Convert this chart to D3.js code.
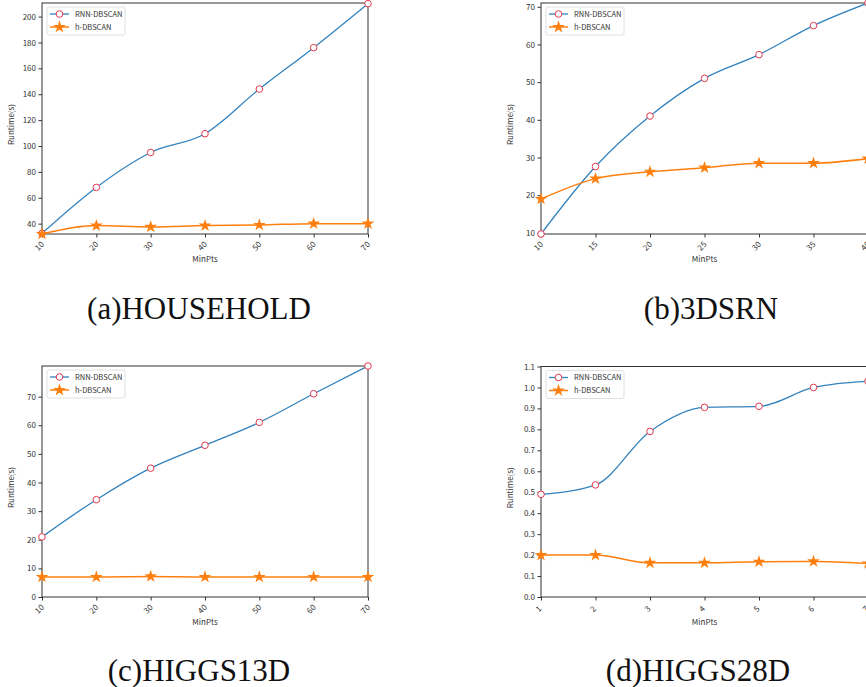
<!DOCTYPE html>
<html>
<head>
<meta charset="utf-8">
<script src="https://cdn.jsdelivr.net/npm/d3@7"></script>
<style>
  html, body { margin: 0; padding: 0; background: #fff; overflow: hidden; }
  svg { display: block; }
  .tick text { font-family: "Noto Sans CJK SC", "DejaVu Sans", sans-serif; font-size: 8px; fill: #333; }
  .axlabel { font-family: "Noto Sans CJK SC", "DejaVu Sans", sans-serif; font-size: 8px; fill: #333; }
  .legend text { font-family: "Noto Sans CJK SC", "DejaVu Sans", sans-serif; font-size: 7.5px; fill: #333; }
  .caption { font-family: "Liberation Serif", "DejaVu Serif", serif; font-size: 31px; fill: #111; }
</style>
</head>
<body>
<div id="chart"></div>
<script>
// Runtime vs MinPts, four datasets (a)-(d)

// x values (MinPts)
const minPtsA = [10, 20, 30, 40, 50, 60, 70];
const minPtsB = [10, 15, 20, 25, 30, 35, 40];
const minPtsC = [10, 20, 30, 40, 50, 60, 70];
const minPtsD = [1, 2, 3, 4, 5, 6, 7];

// runtime (s)
const rnnA = [32.5, 68, 95, 109.5, 144, 176, 210];
const hA   = [32, 38.5, 37.5, 38.5, 39, 40, 40];
const rnnB = [9.7, 27.6, 41, 51, 57.3, 65, 71];
const hB   = [19, 24.4, 26.2, 27.3, 28.5, 28.5, 29.7];
const rnnC = [21, 34, 45, 53, 61, 71, 80.7];
const hC   = [7, 7, 7.2, 7, 7, 7, 7];
const rnnD = [0.49, 0.535, 0.79, 0.905, 0.91, 1.0, 1.03];
const hD   = [0.2, 0.2, 0.163, 0.163, 0.168, 0.17, 0.16];

// y tick values
const yTicksA = [40, 60, 80, 100, 120, 140, 160, 180, 200];
const yTicksB = [10, 20, 30, 40, 50, 60, 70];
const yTicksC = [0, 10, 20, 30, 40, 50, 60, 70];
const yTicksD = [0, 0.1, 0.2, 0.3, 0.4, 0.5, 0.6, 0.7, 0.8, 0.9, 1.0, 1.1];

const seriesNames = ["RNN-DBSCAN", "h-DBSCAN"];
const captions = ["(a)HOUSEHOLD", "(b)3DSRN", "(c)HIGGS13D", "(d)HIGGS28D"];

const COLOR_BLUE = "#3282bd";
const COLOR_ORANGE = "#ff7f0e";
const COLOR_RED = "#e3384f";
const AXIS_COLOR = "#333";

const W = 866, H = 687;
const svg = d3.select("#chart").append("svg")
  .attr("width", W).attr("height", H)
  .attr("viewBox", `0 0 ${W} ${H}`);

const panels = [
  { x: minPtsA, rnn: rnnA, h: hA, yTicks: yTicksA, yDom: [32, 210.5], fmt: d3.format("d"),
    box: { l: 42, r: 368, t: 3, b: 234 }, cap: { x: 199, y: 319 } },
  { x: minPtsB, rnn: rnnB, h: hB, yTicks: yTicksB, yDom: [9.7, 71], fmt: d3.format("d"),
    box: { l: 541, r: 868, t: 3, b: 234 }, cap: { x: 711, y: 319 } },
  { x: minPtsC, rnn: rnnC, h: hC, yTicks: yTicksC, yDom: [0, 80.7], fmt: d3.format("d"),
    box: { l: 42, r: 368, t: 366, b: 597 }, cap: { x: 199, y: 681 } },
  { x: minPtsD, rnn: rnnD, h: hD, yTicks: yTicksD, yDom: [0, 1.1], fmt: d3.format(".1f"),
    box: { l: 541, r: 868, t: 366.5, b: 597 }, cap: { x: 698, y: 681 } }
];

function drawPanel(p, i) {
  const b = p.box;
  const g = svg.append("g");

  const x = d3.scaleLinear().domain(d3.extent(p.x)).range([b.l, b.r]);
  const y = d3.scaleLinear().domain(p.yDom).range([b.b, b.t]);

  // frame
  g.append("rect")
    .attr("x", b.l).attr("y", b.t)
    .attr("width", b.r - b.l).attr("height", b.b - b.t)
    .attr("fill", "none").attr("stroke", AXIS_COLOR).attr("stroke-width", 1);

  // x axis
  const xa = g.append("g").attr("transform", `translate(0,${b.b})`)
    .call(d3.axisBottom(x).tickValues(p.x).tickSize(3.5).tickPadding(2).tickFormat(d3.format("d")));
  xa.select(".domain").remove();
  xa.selectAll(".tick line").attr("stroke", AXIS_COLOR);
  xa.selectAll(".tick text")
    .attr("text-anchor", "middle")
    .attr("dy", null)
    .attr("y", 0)
    .attr("transform", "translate(-1,14) rotate(-45)");

  // y axis
  const ya = g.append("g").attr("transform", `translate(${b.l},0)`)
    .call(d3.axisLeft(y).tickValues(p.yTicks).tickSize(3.5).tickPadding(2.5).tickFormat(p.fmt));
  ya.select(".domain").remove();
  ya.selectAll(".tick line").attr("stroke", AXIS_COLOR);

  // axis labels
  g.append("text").attr("class", "axlabel")
    .attr("x", (b.l + b.r) / 2)
    .attr("y", b.b + 28)
    .attr("text-anchor", "middle")
    .text("MinPts");

  g.append("text").attr("class", "axlabel")
    .attr("transform", `translate(${b.l - 28},${(b.t + b.b) / 2 + 6}) rotate(-90)`)
    .attr("text-anchor", "middle")
    .text("Runtime(s)");

  // lines
  const clipId = "clip" + i;
  svg.append("clipPath").attr("id", clipId)
    .append("rect").attr("x", b.l - 6).attr("y", b.t - 6)
    .attr("width", b.r - b.l + 12).attr("height", b.b - b.t + 12);

  const plot = g.append("g").attr("clip-path", `url(#${clipId})`);

  const line = d3.line()
    .x(d => x(d[0]))
    .y(d => y(d[1]))
    .curve(d3.curveMonotoneX);

  const rnnPts = p.x.map((v, k) => [v, p.rnn[k]]);
  const hPts = p.x.map((v, k) => [v, p.h[k]]);

  plot.append("path").datum(rnnPts)
    .attr("d", line).attr("fill", "none")
    .attr("stroke", COLOR_BLUE).attr("stroke-width", 1.3);

  plot.append("path").datum(hPts)
    .attr("d", line).attr("fill", "none")
    .attr("stroke", COLOR_ORANGE).attr("stroke-width", 1.5);

  plot.selectAll("circle.rnn").data(rnnPts).join("circle")
    .attr("class", "rnn")
    .attr("cx", d => x(d[0])).attr("cy", d => y(d[1]))
    .attr("r", 3.3)
    .attr("fill", "#fff").attr("stroke", COLOR_RED).attr("stroke-width", 1);

  const star = d3.symbol().type(d3.symbolStar).size(50);
  plot.selectAll("path.hstar").data(hPts).join("path")
    .attr("class", "hstar")
    .attr("transform", d => `translate(${x(d[0])},${y(d[1])})`)
    .attr("d", star)
    .attr("fill", COLOR_ORANGE);

  // legend
  const lg = g.append("g").attr("class", "legend")
    .attr("transform", `translate(${b.l + 5},${b.t + 4})`);
  lg.append("rect")
    .attr("x", 0).attr("y", 0).attr("width", 78).attr("height", 28)
    .attr("rx", 2).attr("fill", "#fff").attr("fill-opacity", 0.8)
    .attr("stroke", "#d8d8d8").attr("stroke-width", 0.8);

  seriesNames.forEach((name, k) => {
    const ly = 7 + k * 13;
    lg.append("line")
      .attr("x1", 3).attr("x2", 22).attr("y1", ly).attr("y2", ly)
      .attr("stroke", k === 0 ? COLOR_BLUE : COLOR_ORANGE)
      .attr("stroke-width", k === 0 ? 1.3 : 1.5);
    if (k === 0) {
      lg.append("circle").attr("cx", 12.5).attr("cy", ly).attr("r", 3.3)
        .attr("fill", "#fff").attr("stroke", COLOR_RED).attr("stroke-width", 1);
    } else {
      lg.append("path").attr("transform", `translate(12.5,${ly})`)
        .attr("d", star).attr("fill", COLOR_ORANGE);
    }
    lg.append("text")
      .attr("x", 28).attr("y", ly + 2.7)
      .text(name);
  });

  // caption
  svg.append("text").attr("class", "caption")
    .attr("x", p.cap.x).attr("y", p.cap.y)
    .attr("text-anchor", "middle")
    .text(captions[i]);
}

panels.forEach(drawPanel);
</script>
</body>
</html>
